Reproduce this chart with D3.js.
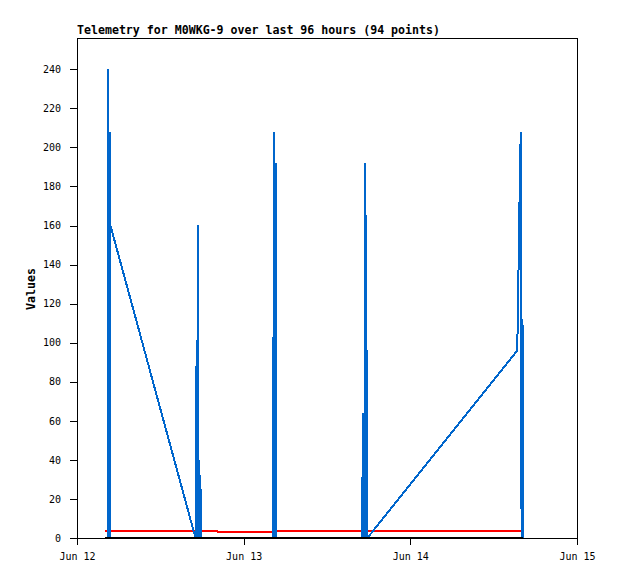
<!DOCTYPE html>
<html><head><meta charset="utf-8">
<script src="https://cdn.jsdelivr.net/npm/d3@7"></script>
<style>body{margin:0;background:#fff} svg{display:block}</style>
</head><body>
<script>
const titleText = "Telemetry for M0WKG-9 over last 96 hours (94 points)";
const yAxisLabel = "Values";
const xTickDates = ["2024-06-12 00:00","2024-06-13 00:00","2024-06-14 00:00","2024-06-15 00:00"];
const xTickLabels = ["Jun 12","Jun 13","Jun 14","Jun 15"];
const yTicks = [0,20,40,60,80,100,120,140,160,180,200,220,240];
const times = [
 "2024-06-12 04:02","2024-06-12 04:24","2024-06-12 04:28","2024-06-12 04:31","2024-06-12 04:43","2024-06-12 04:45","2024-06-12 04:49",
 "2024-06-12 17:04","2024-06-12 17:11","2024-06-12 17:15","2024-06-12 17:25","2024-06-12 17:29","2024-06-12 17:36","2024-06-12 17:40","2024-06-12 17:46","2024-06-12 17:51",
 "2024-06-12 20:08","2024-06-12 20:12","2024-06-13 01:25","2024-06-13 01:29","2024-06-13 04:09","2024-06-13 04:15",
 "2024-06-13 04:21","2024-06-13 04:26","2024-06-13 04:36","2024-06-13 04:41",
 "2024-06-13 17:05","2024-06-13 17:09","2024-06-13 17:14","2024-06-13 17:20","2024-06-13 17:25","2024-06-13 17:32","2024-06-13 17:37","2024-06-13 17:43","2024-06-13 17:49",
 "2024-06-14 15:24","2024-06-14 15:28","2024-06-14 15:35","2024-06-14 15:42","2024-06-14 15:48","2024-06-14 15:55","2024-06-14 16:01","2024-06-14 16:09","2024-06-14 16:14"
];
const blueValues = [
 0,0,240,0,0,208,160,
 0,88,0,160,0,40,0,32,0,
 0,0,0,0,0,0,
 208,0,192,0,
 0,64,0,16,0,192,0,96,0,
 96,112,138,166,194,208,0,112,0
];
const redValues = [
 3.3,3.8,3.8,3.8,3.8,3.8,3.8,
 3.8,3.8,3.8,3.8,3.8,3.8,3.8,3.8,3.8,
 3.8,3.3,3.3,2.9,2.9,3.8,
 3.8,3.8,3.8,3.8,
 3.8,3.8,3.8,3.8,3.8,3.8,3.8,3.8,3.8,
 3.8,3.8,3.8,3.8,3.8,3.8,3.8,3.8,3.8
];
const blackValues = [
 0,0,0,0,0,0,0,
 0,0,0,0,0,0,0,0,0,
 0,0,0,0,0,0,
 0,0,0,0,
 0,0,0,0,0,0,0,0,0,
 0,0,0,0,0,0,0,0,0
];

const W = 618, H = 579;
const pLeft = 77, pRight = 577, pTop = 38, pBottom = 538;
const parse = d3.timeParse("%Y-%m-%d %H:%M");
const svg = d3.select("body").append("svg").attr("width", W).attr("height", H);
const x = d3.scaleTime().domain([parse(xTickDates[0]), parse(xTickDates[3])]).range([pLeft, pRight]);
const y = d3.scaleLinear().domain([0, 256]).range([pBottom, pTop]);
const tickFont = "'DejaVu Sans Mono', monospace";

const gx = svg.append("g").attr("transform", `translate(0,${pBottom})`)
  .call(d3.axisBottom(x).tickValues(xTickDates.map(parse)).tickFormat((d,i)=>xTickLabels[i]).tickSize(7).tickSizeOuter(0).tickPadding(8));
const gy = svg.append("g").attr("transform", `translate(${pLeft},0)`)
  .call(d3.axisLeft(y).tickValues(yTicks).tickSize(7).tickSizeOuter(0).tickPadding(9));
[gx, gy].forEach(g => {
  g.select(".domain").remove();
  g.selectAll("line").attr("stroke", "#000").attr("shape-rendering", "crispEdges");
  g.selectAll("text").attr("fill", "#000").style("font-family", tickFont).style("font-size", "10px");
});

const pts = times.map((t,i)=>({t: parse(t), b: blueValues[i], r: redValues[i], k: blackValues[i]}));
const mk = key => d3.line().x(d=>x(d.t)).y(d=>y(d[key]));

svg.append("path").datum(pts).attr("d", mk("r")).attr("fill","none").attr("stroke","#ff0000").attr("stroke-width",2).attr("stroke-linejoin","bevel").attr("shape-rendering","crispEdges");
svg.append("path").datum(pts).attr("d", mk("b")).attr("fill","none").attr("stroke","#0066cc").attr("stroke-width",2).attr("stroke-linejoin","bevel").attr("shape-rendering","crispEdges");
svg.append("path").datum(pts).attr("d", mk("k")).attr("fill","none").attr("stroke","#000").attr("stroke-width",2).attr("shape-rendering","crispEdges");

svg.append("rect").attr("x", pLeft).attr("y", pTop).attr("width", pRight-pLeft).attr("height", pBottom-pTop)
  .attr("fill","none").attr("stroke","#000").attr("stroke-width",1).attr("shape-rendering","crispEdges");

svg.append("text").attr("x", pLeft).attr("y", 34).text(titleText)
  .style("font-family", tickFont).style("font-size","11.6px").style("font-weight","bold").attr("fill","#000");
svg.append("text").attr("transform", `translate(35,289) rotate(-90)`).attr("text-anchor","middle").text(yAxisLabel)
  .style("font-family", tickFont).style("font-size","11.6px").style("font-weight","bold").attr("fill","#000");
</script>
</body></html>
